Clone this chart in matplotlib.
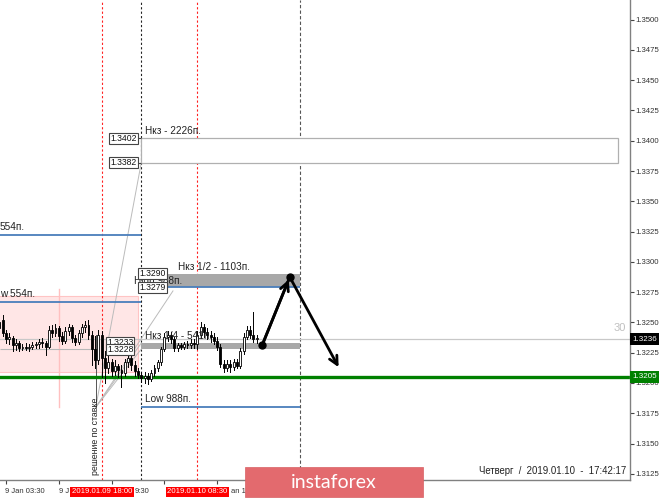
import numpy as np
import matplotlib
matplotlib.use("Agg")
import matplotlib.pyplot as plt
from matplotlib.patches import Rectangle

# ---------------- data (GBPUSD M30, 2019-01-09 .. 2019-01-10) ----------------
first_candle_hour = 2.5      # hours since 2019-01-09 00:00
candle_step = 0.5            # M30

opens = [1.3250, 1.3252, 1.3241, 1.3236, 1.3237, 1.3231, 1.3233, 1.3229, 1.3230, 1.3229,
         1.3230, 1.3231, 1.3232, 1.3234, 1.3233, 1.3230, 1.3244, 1.3241, 1.3245, 1.3239,
         1.3235, 1.3243, 1.3246, 1.3237, 1.3234, 1.3241, 1.3246, 1.3248, 1.3240, 1.3228,
         1.3219, 1.3240, 1.3221, 1.3212, 1.3217, 1.3210, 1.3214, 1.3211, 1.3208, 1.3217,
         1.3221, 1.3215, 1.3210, 1.3207, 1.3204, 1.3206, 1.3203, 1.3208, 1.3212, 1.3217,
         1.3228, 1.3238, 1.3240, 1.3236, 1.3229, 1.3231, 1.3230, 1.3232, 1.3231, 1.3233,
         1.3232, 1.3240, 1.3246, 1.3242, 1.3240, 1.3238, 1.3235, 1.3230, 1.3216, 1.3212,
         1.3216, 1.3213, 1.3217, 1.3214, 1.3226, 1.3238, 1.3244, 1.3240, 1.3236]
highs = [1.3256, 1.3256, 1.3244, 1.3241, 1.3239, 1.3236, 1.3235, 1.3232, 1.3233, 1.3232,
         1.3234, 1.3234, 1.3236, 1.3237, 1.3235, 1.3247, 1.3248, 1.3249, 1.3247, 1.3242,
         1.3246, 1.3249, 1.3248, 1.3240, 1.3244, 1.3249, 1.3251, 1.3252, 1.3243, 1.3239,
         1.3244, 1.3243, 1.3226, 1.3222, 1.3220, 1.3219, 1.3216, 1.3215, 1.3220, 1.3224,
         1.3223, 1.3218, 1.3212, 1.3209, 1.3209, 1.3208, 1.3211, 1.3215, 1.3219, 1.3230,
         1.3241, 1.3243, 1.3242, 1.3238, 1.3233, 1.3233, 1.3234, 1.3235, 1.3236, 1.3236,
         1.3243, 1.3250, 1.3249, 1.3245, 1.3243, 1.3241, 1.3238, 1.3232, 1.3219, 1.3219,
         1.3219, 1.3220, 1.3220, 1.3229, 1.3241, 1.3247, 1.3247, 1.3259, 1.3240]
lows = [1.3243, 1.3239, 1.3233, 1.3232, 1.3226, 1.3227, 1.3226, 1.3227, 1.3227, 1.3226,
        1.3228, 1.3229, 1.3229, 1.3230, 1.3223, 1.3229, 1.3238, 1.3239, 1.3235, 1.3232,
        1.3233, 1.3240, 1.3234, 1.3231, 1.3232, 1.3238, 1.3242, 1.3236, 1.3215, 1.3212,
        1.3216, 1.3205, 1.3200, 1.3208, 1.3206, 1.3207, 1.3205, 1.3197, 1.3206, 1.3213,
        1.3211, 1.3206, 1.3204, 1.3201, 1.3200, 1.3199, 1.3202, 1.3206, 1.3210, 1.3215,
        1.3226, 1.3235, 1.3233, 1.3226, 1.3226, 1.3228, 1.3228, 1.3229, 1.3229, 1.3229,
        1.3228, 1.3237, 1.3238, 1.3236, 1.3234, 1.3232, 1.3227, 1.3213, 1.3209, 1.3210,
        1.3209, 1.3211, 1.3212, 1.3212, 1.3224, 1.3236, 1.3237, 1.3234, 1.3233]
closes = [1.3245, 1.3241, 1.3236, 1.3238, 1.3231, 1.3233, 1.3229, 1.3230, 1.3229, 1.3230,
          1.3231, 1.3232, 1.3234, 1.3233, 1.3230, 1.3244, 1.3241, 1.3245, 1.3239, 1.3235,
          1.3243, 1.3246, 1.3237, 1.3234, 1.3241, 1.3246, 1.3248, 1.3240, 1.3228, 1.3219,
          1.3240, 1.3221, 1.3212, 1.3217, 1.3210, 1.3214, 1.3211, 1.3208, 1.3217, 1.3221,
          1.3215, 1.3210, 1.3207, 1.3204, 1.3206, 1.3203, 1.3208, 1.3212, 1.3217, 1.3228,
          1.3238, 1.3240, 1.3236, 1.3229, 1.3231, 1.3230, 1.3232, 1.3231, 1.3233, 1.3232,
          1.3240, 1.3246, 1.3242, 1.3240, 1.3238, 1.3235, 1.3230, 1.3216, 1.3212, 1.3216,
          1.3213, 1.3217, 1.3214, 1.3226, 1.3238, 1.3244, 1.3240, 1.3236, 1.3237]

y_ticks = [1.3125, 1.3150, 1.3175, 1.3200, 1.3225, 1.3250, 1.3275, 1.3300,
           1.3325, 1.3350, 1.3375, 1.3400, 1.3425, 1.3450, 1.3475, 1.3500]
xtick_hours = [3.5, 11.5, 19.5, 27.5, 35.5]
# visible (uncovered) parts of the time-axis labels
xlabel_hours = [3.35, 11.5, 23.05, 37.6]
xlabel_texts = ["9 Jan 03:30", "9 J", "9:30", "an 11:30"]

event_hours = [18.0, 32.5]
event_labels = ["2019.01.09 18:00", "2019.01.10 08:30"]
day_separators = [24.0, 48.0]

nkz_level = [1.3402, 1.3382]
nkz_half = [1.3290, 1.3279]
nkz_quarter = [1.3233, 1.3228]
range554 = [1.3322, 1.3267]
range988 = [1.3279, 1.3180]
pink_zone = [1.3272, 1.3209]
support_level = 1.3205
bid_price = 1.3236
decision_hour = 17.1

arrow_hours = [42.3, 46.5, 54.1]
arrow_prices = [1.3231, 1.32875, 1.3211]

# ---------------- figure ----------------
W, H = 665, 498
fig = plt.figure(figsize=(W / 100, H / 100), dpi=100)
fig.patch.set_facecolor("white")
ax = fig.add_axes([0, 18 / H, 630 / W, 480 / H])
ax.set_xlim(2.591, 98.05)
ax.set_ylim(1.31199, 1.35162)
ax.set_facecolor("white")
x_left = ax.get_xlim()[0]

FONT = "Liberation Sans"
GRAY = "#808080"

for s in ["left", "top"]:
    ax.spines[s].set_visible(False)
for s in ["right", "bottom"]:
    ax.spines[s].set_color(GRAY)
    ax.spines[s].set_linewidth(1.0)

ax.yaxis.tick_right()
ax.set_yticks(y_ticks)
ax.set_yticklabels([f"{v:.4f}" for v in y_ticks], fontfamily=FONT, fontsize=5.6, color="#333333")
ax.tick_params(axis="y", length=3, width=0.8, color="#444444", pad=1)
ax.set_xticks(xtick_hours)
ax.set_xticklabels([])
ax.tick_params(axis="x", length=3, width=0.8, color="#444444")
for hx, lab in zip(xlabel_hours, xlabel_texts):
    ax.annotate(lab, xy=(hx, 0), xycoords=("data", "axes fraction"), xytext=(0, -8.5),
                textcoords="offset points", ha="left", va="center", fontfamily=FONT,
                fontsize=5.5, color="#333333", annotation_clip=False, zorder=4)

# pink zone
ax.add_patch(Rectangle((x_left - 1, pink_zone[1]), 23.5 - x_left + 1,
                       pink_zone[0] - pink_zone[1], facecolor="#FFE6E6", edgecolor="#FFC4C4",
                       lw=0.8, zorder=0.5))
ax.plot([11.5, 11.5], [1.3278, range988[1]], color="#FFC0C0", lw=1.0, zorder=0.6)

# vertical lines
for hx in event_hours:
    ax.axvline(hx, color="#FF2020", lw=0.8, ls=(0, (2, 2)), zorder=1)
ax.axvline(day_separators[0], color="#222222", lw=0.8, ls=(0, (2, 2)), zorder=1)
ax.axvline(day_separators[1], color="#555555", lw=0.8, ls=(0, (3, 2)), zorder=1)

# Nkz box
ax.add_patch(Rectangle((24, nkz_level[1]), 96.3 - 24, nkz_level[0] - nkz_level[1],
                       facecolor="white", edgecolor="#B0B0B0", lw=0.9, zorder=1.2))

# 554 lines
ax.hlines(range554, x_left, 24, color="#4A7EBB", lw=1.3, zorder=1.5)

# bid & support lines
ax.axhline(bid_price, color="#C8C8C8", lw=0.9, zorder=1.1)
ax.hlines(nkz_quarter[1], x_left, 17.5, color="#B8B8B8", lw=0.8, zorder=1.1)
ax.axhline(support_level, color="#008000", lw=2.4, zorder=2.5)

# bands
ax.add_patch(Rectangle((28, nkz_half[1]), 20, nkz_half[0] - nkz_half[1],
                       facecolor="#A8A8A8", edgecolor="none", zorder=1.3))
ax.add_patch(Rectangle((24, nkz_quarter[1]), 24, nkz_quarter[0] - nkz_quarter[1],
                       facecolor="#A8A8A8", edgecolor="none", zorder=1.3))
ax.hlines(range988[0], 28, 48, color="#4A7EBB", lw=1.3, zorder=1.5)
ax.hlines(range988[1], 24, 48, color="#4A7EBB", lw=1.3, zorder=1.5)

# fan lines
fan_from = (decision_hour, range988[1])
fan_targets = [(24, nkz_level[1]), (28.8, nkz_half[1] - 0.0003), (24, nkz_quarter[0]), (24, nkz_quarter[1])]
for tx, ty in fan_targets:
    ax.plot([fan_from[0], tx], [fan_from[1], ty], color="#BBBBBB", lw=0.7, zorder=1.4)
ax.plot([decision_hour, decision_hour], [1.3240, range988[1]], color="#555555", lw=0.7, zorder=1.4)

# candles
times = first_candle_hour + candle_step * np.arange(len(closes))
for t, o, h, l, c in zip(times, opens, highs, lows, closes):
    ax.plot([t, t], [l, h], color="black", lw=0.7, zorder=3)
    bull = c >= o
    ax.add_patch(Rectangle((t - 0.15, min(o, c)), 0.3, max(abs(c - o), 0.00003),
                           facecolor="white" if bull else "black", edgecolor="black",
                           lw=0.6, zorder=3.1))

# price tags
def tag(x, y, s, ha="right"):
    ax.text(x, y, s, ha=ha, va="center", fontfamily=FONT, fontsize=6.2, color="#111111",
            zorder=6, bbox=dict(boxstyle="square,pad=0.12", fc="white", ec="#444444", lw=0.8))

tag(23.3, nkz_level[0], "1.3402")
tag(23.3, nkz_level[1], "1.3382")
tag(27.7, nkz_half[0] + 0.00002, "1.3290")
tag(27.7, nkz_half[1] - 0.00002, "1.3279")
tag(22.8, nkz_quarter[0] + 0.00003, "1.3233")
tag(22.8, nkz_quarter[1] - 0.00003, "1.3228")
ax.hlines(nkz_level, 23.4, 24, color="#444444", lw=0.8, zorder=5)

# texts
tk = dict(fontfamily=FONT, fontsize=7.2, color="#222222", zorder=5)
ax.text(24.5, 1.3404, "Нкз - 2226п.", ha="left", va="bottom", **tk)
ax.text(29.6, 1.3292, "Нкз 1/2 - 1103п.", ha="left", va="bottom", **tk)
ax.text(24.5, 1.3235, "Нкз 1/4 - 541п.", ha="left", va="bottom", **tk)
ax.text(24.5, 1.3183, "Low 988п.", ha="left", va="bottom", **tk)
ax.text(30.2, 1.32842, "High 988п.", ha="right", va="center", fontfamily=FONT, fontsize=7.2,
        color="#222222", zorder=5.5)
ax.text(x_left, 1.3325, "554п.", ha="left", va="bottom", **tk)
ax.text(x_left, 1.3269, "w 554п.", ha="left", va="bottom", **tk)
ax.text(decision_hour, 1.3124, "решение по ставке", rotation=90, ha="center", va="bottom",
        fontfamily=FONT, fontsize=6.3, color="#222222", zorder=5)
ax.text(97.5, 1.3241, "30", ha="right", va="bottom", fontfamily=FONT, fontsize=8,
        color="#C0C0C0", zorder=5)
ax.text(97.5, 1.3123, "Четверг  /  2019.01.10  -  17:42:17", ha="right", va="bottom",
        fontfamily=FONT, fontsize=6.9, color="#222222", zorder=5)

# arrows
ax.plot(arrow_hours[:2], arrow_prices[:2], color="black", lw=2.0, zorder=7)
ax.plot(arrow_hours[:2], arrow_prices[:2], "o", color="black", ms=5, zorder=7)
ax.annotate("", xy=(arrow_hours[1], arrow_prices[1]), xytext=(arrow_hours[0], arrow_prices[0]),
            arrowprops=dict(arrowstyle="->,head_length=0.6,head_width=0.3", lw=2.0, color="black"),
            zorder=7)
ax.annotate("", xy=(arrow_hours[2], arrow_prices[2]), xytext=(arrow_hours[1], arrow_prices[1]),
            arrowprops=dict(arrowstyle="->,head_length=0.6,head_width=0.3", lw=2.0, color="black"),
            zorder=7)

# event labels on x axis
for hx, lab in zip(event_hours, event_labels):
    ax.annotate(lab, xy=(hx, 0), xycoords=("data", "axes fraction"), xytext=(0, -8.5),
                textcoords="offset points", ha="center", va="center", fontfamily=FONT,
                fontsize=5.6, color="white", annotation_clip=False, zorder=8,
                bbox=dict(boxstyle="square,pad=0.22", fc="#FF0000", ec="none"))

# right-axis price boxes
for val, fc in [(bid_price, "black"), (support_level, "#008000")]:
    ax.annotate(f"{val:.4f}", xy=(1, val), xycoords=("axes fraction", "data"), xytext=(1.5, 0),
                textcoords="offset points", ha="left", va="center", fontfamily=FONT,
                fontsize=5.8, color="white", annotation_clip=False, zorder=8,
                bbox=dict(boxstyle="square,pad=0.3", fc=fc, ec="none"))

# instaforex watermark
fig.patches.append(Rectangle((245 / W, 1 / H), 178 / W, 30 / H, transform=fig.transFigure,
                             facecolor="#E36A6E", edgecolor="#D86064", lw=0.5, zorder=10))
fig.text(334 / W, (498 - 482) / H, "instaforex", ha="center", va="center",
         fontfamily="Lato", fontsize=14, color="white", zorder=11)

fig.savefig("out.png", dpi=100, facecolor="white")
